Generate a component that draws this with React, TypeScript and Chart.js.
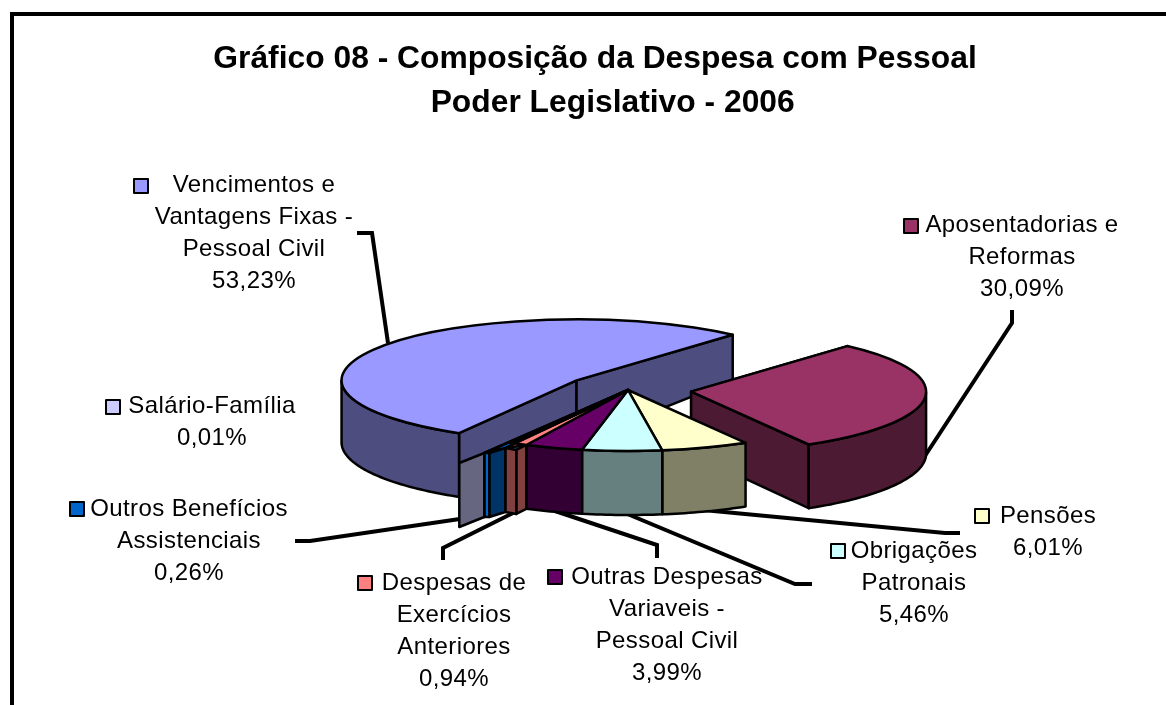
import React, { useEffect, useRef } from "react";
import { Chart, registerables } from "chart.js";

Chart.register(...registerables);

// ---------- data ----------
const categories = [
  "Vencimentos e Vantagens Fixas - Pessoal Civil",
  "Aposentadorias e Reformas",
  "Pensões",
  "Obrigações Patronais",
  "Outras Despesas Variaveis - Pessoal Civil",
  "Despesas de Exercícios Anteriores",
  "Outros Benefícios Assistenciais",
  "Salário-Família",
];
const values = [53.23, 30.09, 6.01, 5.46, 3.99, 0.94, 0.26, 0.01];
const colors = ["#9999FF", "#993366", "#FFFFCC", "#CCFFFF", "#660066", "#FF8080", "#0066CC", "#CCCCFF"];
const titleLines = [
  "Gráfico 08 - Composição da Despesa com Pessoal",
  "    Poder Legislativo - 2006",
];
const labelLines = [
  ["Vencimentos e", "Vantagens Fixas -", "Pessoal Civil"],
  ["Aposentadorias e", "Reformas"],
  ["Pensões"],
  ["Obrigações", "Patronais"],
  ["Outras Despesas", "Variaveis -", "Pessoal Civil"],
  ["Despesas de", "Exercícios", "Anteriores"],
  ["Outros Benefícios", "Assistenciais"],
  ["Salário-Família"],
];

// ---------- layout and style (not data) ----------
const FONT = '"Liberation Sans", Arial, sans-serif';
const PIE = { x: 628, y: 390, radius: 235, squash: 61 / 235, rotation: 210 };
const explode = [0.27, 0.27, 0, 0, 0, 0, 0, 0];
// tiny slices: their side walls in the picture are wider than their arcs
// [width, rise, shade] per wall strip; wedge = strips covered by the top face
const wallStrips: ([number, number, number][] | null)[] = [
  null, null, null, null, null,
  [[10, 5, 0.5], [11, -2, 0.5]],
  [[16, 5, 0.5], [5, 0, 1]],
  [[25, 10, 0.5]],
];
const wedgeStrips = [0, 0, 0, 0, 0, 2, 2, 0];
const labelAnchors = [
  [254, 192], [1022, 232], [1048, 523], [914, 558],
  [667, 584], [454, 590], [189, 516], [212, 413],
];
const keyBoxes = [
  [134, 179], [904, 219], [975, 509], [831, 544],
  [548, 570], [358, 576], [70, 502], [106, 400],
];
const leaders = [
  [[357, 233], [372, 233], [388, 343]],
  [[1012, 310], [1012, 323], [921, 462]],
  [[960, 533], [945, 533], [703, 510]],
  [[812, 584], [795, 584], [625, 513]],
  [[657, 558], [657, 545], [555, 511]],
  [[443, 560], [443, 548], [513, 513]],
  [[295, 541], [310, 541], [487, 515]],
];

const pct = (v: number) => v.toFixed(2).replace(".", ",") + "%";
const shade = (hex: string, f: number) => {
  const n = parseInt(hex.slice(1), 16);
  const c = (s: number) => Math.round(((n >> s) & 255) * f);
  return `rgb(${c(16)},${c(8)},${c(0)})`;
};
// the wall is shorter towards the back, a stand-in for the perspective
const depthAt = (v: number) => 62 + (v < 0 ? 22 * v : 2 * v);
const EDGE = 2.5;

function poly(ctx: CanvasRenderingContext2D, pts: number[][], fill: string | null) {
  ctx.beginPath();
  pts.forEach(([x, y], i) => (i ? ctx.lineTo(x, y) : ctx.moveTo(x, y)));
  ctx.closePath();
  if (fill) {
    ctx.fillStyle = fill;
    ctx.fill();
  }
  ctx.lineWidth = EDGE;
  ctx.strokeStyle = "#000";
  ctx.lineJoin = "round";
  ctx.stroke();
}

const tiltPlugin = {
  id: "tilt3d",
  beforeDatasetsDraw(chart: any) {
    const ctx: CanvasRenderingContext2D = chart.ctx;
    // leader lines lie under the pie
    ctx.save();
    ctx.strokeStyle = "#000";
    ctx.lineWidth = 4;
    ctx.lineJoin = "miter";
    leaders.forEach((pts) => {
      ctx.beginPath();
      pts.forEach(([x, y], i) => (i ? ctx.lineTo(x, y) : ctx.moveTo(x, y)));
      ctx.stroke();
    });
    ctx.restore();

    const arcs = chart.getDatasetMeta(0).data;
    const k = PIE.squash;
    let stripX = 0;
    let stripY = 0;
    arcs.forEach((el: any, i: number) => {
      const R = el.outerRadius;
      const s = el.startAngle;
      const e = el.endAngle;
      const mid = (s + e) / 2;
      const ax = PIE.x + explode[i] * R * Math.cos(mid);
      const ay = PIE.y + explode[i] * R * k * Math.sin(mid);
      const top = (a: number) => [ax + R * Math.cos(a), ay + R * k * Math.sin(a)];
      const low = (a: number) => {
        const [x, y] = top(a);
        return [x, y + depthAt(Math.sin(a))];
      };
      const wall = shade(colors[i], 0.5);
      const strips = wallStrips[i];
      if (!strips) {
        // only slices pulled out of the pie show their radial faces
        if (explode[i] > 0) {
          const apexLow = [ax, ay + depthAt(0)];
          [s, e].forEach((a) => poly(ctx, [[ax, ay], top(a), low(a), apexLow], wall));
        }
        const angles: number[] = [];
        for (let a = s; a < e; a += 0.02) if (Math.sin(a) >= 0) angles.push(a);
        if (Math.sin(e) >= 0) angles.push(e);
        if (angles.length > 1) {
          poly(ctx, [...angles.map(top), ...angles.slice().reverse().map(low)], wall);
        }
        [stripX, stripY] = top(e);
      } else {
        const start = [stripX, stripY];
        let wedgeEnd = start;
        strips.forEach(([w, rise, f], n) => {
          const next = [stripX - w, stripY + rise];
          const d = depthAt(1);
          poly(ctx, [[stripX, stripY], next, [next[0], next[1] + d], [stripX, stripY + d]], shade(colors[i], f));
          stripX = next[0];
          stripY = next[1];
          if (n < wedgeStrips[i]) wedgeEnd = next;
        });
        // top face is drawn after the walls
        poly(ctx, [[ax, ay], start, wedgeEnd], colors[i]);
      }
      // the top face: the library's own arc element under the tilt
      ctx.save();
      ctx.translate(ax, ay);
      ctx.scale(1, k);
      ctx.translate(-el.x, -el.y);
      el.draw(ctx);
      ctx.beginPath();
      ctx.moveTo(el.x, el.y);
      ctx.arc(el.x, el.y, R, s, e);
      ctx.closePath();
      ctx.restore();
      ctx.lineWidth = EDGE;
      ctx.strokeStyle = "#000";
      ctx.lineJoin = "round";
      ctx.stroke();
    });
    return false;
  },
  afterDraw(chart: any) {
    const ctx: CanvasRenderingContext2D = chart.ctx;
    ctx.save();
    // frame
    ctx.fillStyle = "#000";
    ctx.fillRect(10, 12, 1156, 4);
    ctx.fillRect(10, 12, 4, 693);
    // labels
    ctx.font = `24px ${FONT}`;
    (ctx as any).letterSpacing = "0.4px";
    ctx.textAlign = "center";
    ctx.textBaseline = "alphabetic";
    categories.forEach((_, i) => {
      const lines = [...labelLines[i], pct(values[i])];
      const [cx, y0] = labelAnchors[i];
      ctx.fillStyle = "#000";
      lines.forEach((t, n) => ctx.fillText(t, cx, y0 + n * 32));
      const [kx, ky] = keyBoxes[i];
      ctx.fillStyle = colors[i];
      ctx.fillRect(kx, ky, 14, 14);
      ctx.lineWidth = 2;
      ctx.strokeStyle = "#000";
      ctx.strokeRect(kx, ky, 14, 14);
    });
    ctx.restore();
  },
};

export default function App() {
  const ref = useRef<HTMLCanvasElement>(null);
  useEffect(() => {
    if (!ref.current) return;
    const chart = new Chart(ref.current, {
      type: "pie",
      data: {
        labels: categories,
        datasets: [
          {
            data: values,
            backgroundColor: colors,
            borderWidth: 0,
            radius: PIE.radius,
          },
        ],
      },
      options: {
        responsive: false,
        animation: false,
        rotation: PIE.rotation,
        layout: { padding: { left: 24 } },
        plugins: {
          legend: { display: false },
          tooltip: { enabled: false },
          title: {
            display: true,
            text: titleLines,
            color: "#000",
            font: { family: FONT, size: 31.8, weight: "bold", lineHeight: 1.385 },
            padding: { top: 37, bottom: 0 },
          },
        },
      },
      plugins: [tiltPlugin],
    } as any);
    return () => chart.destroy();
  }, []);
  return (
    <canvas
      ref={ref}
      width={1166}
      height={705}
      style={{ position: "absolute", left: 0, top: 0, display: "block", background: "#fff" }}
    />
  );
}
